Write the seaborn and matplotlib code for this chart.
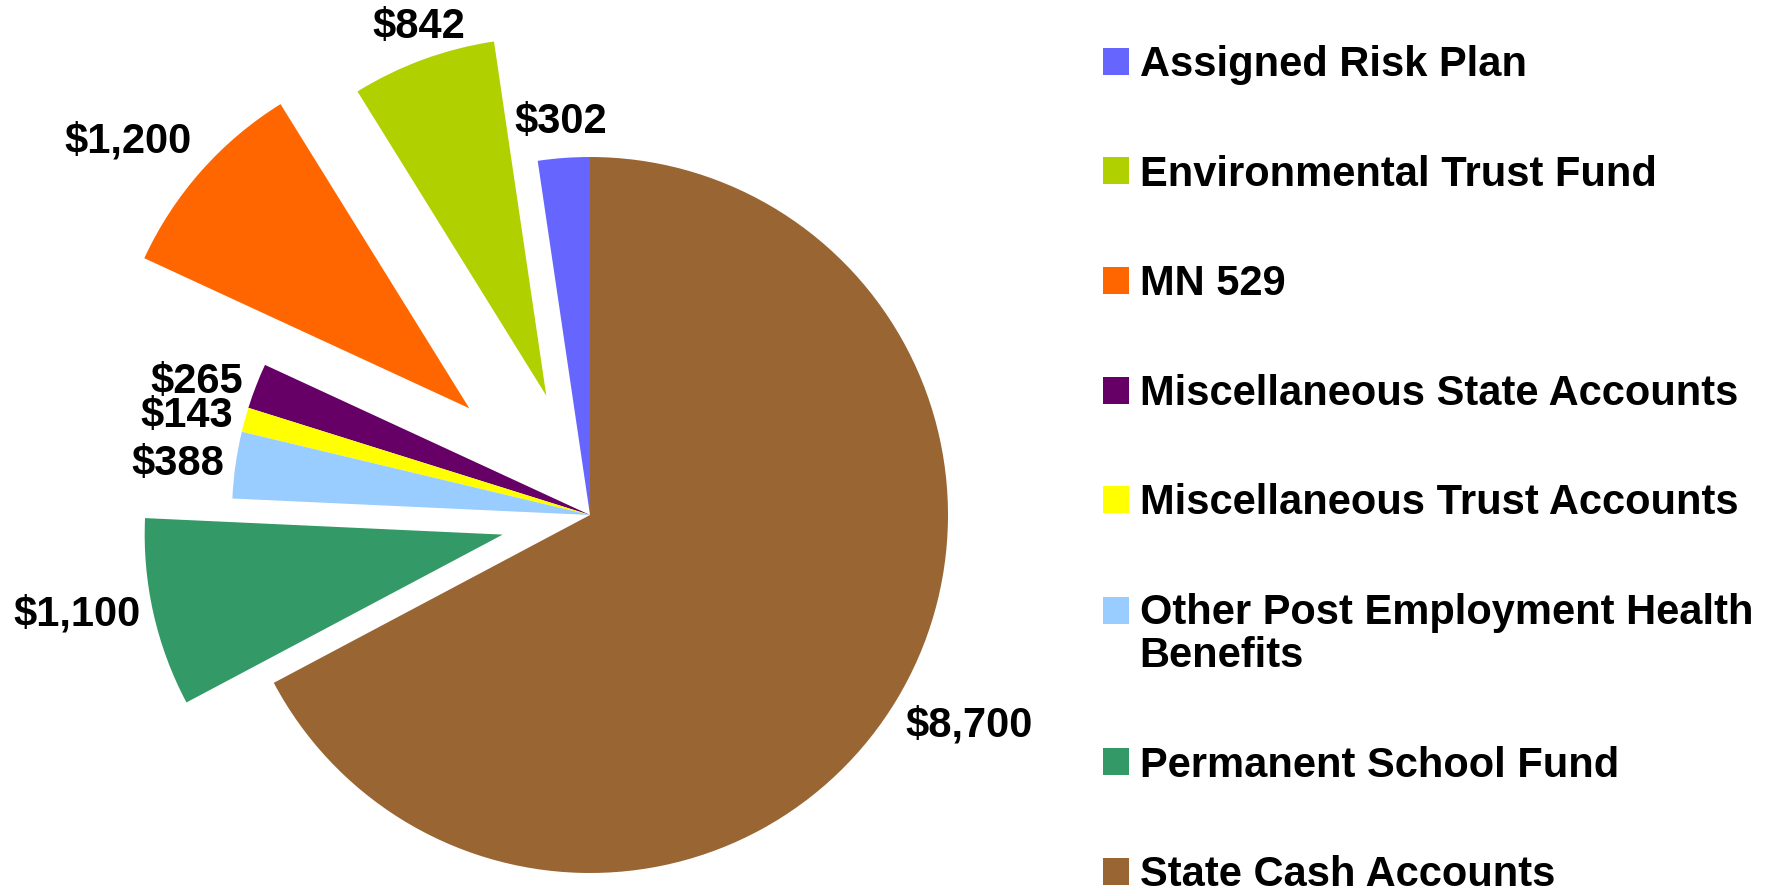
import matplotlib
matplotlib.use("Agg")
import matplotlib.pyplot as plt
import seaborn as sns
import numpy as np
from matplotlib.patches import Patch, Rectangle
from matplotlib.legend_handler import HandlerPatch

sns.set_theme(style="white")
plt.rcParams['font.family'] = ['Liberation Sans', 'DejaVu Sans']

categories = ["Assigned Risk Plan", "Environmental Trust Fund", "MN 529",
              "Miscellaneous State Accounts", "Miscellaneous Trust Accounts",
              "Other Post Employment Health\nBenefits", "Permanent School Fund",
              "State Cash Accounts"]
values = [302, 842, 1200, 265, 143, 388, 1100, 8700]
value_labels = ["$302", "$842", "$1,200", "$265", "$143", "$388", "$1,100", "$8,700"]
colors = ["#6666FF", "#B0D000", "#FF6600", "#660066", "#FFFF00", "#99CCFF",
          "#339966", "#996633"]
explode = [0, 0.355, 0.45, 0, 0, 0, 0.25, 0]
label_dist = [1.10, 1.09, 1.21, 1.16, 1.16, 1.16, 1.21, 1.21]
label_nudge = [0, -1, 3.5, 2.4, 1.7, 1.0, -2, 2]

W, H = 1774, 894
fig = plt.figure(figsize=(W / 100, H / 100), dpi=100)
ax = fig.add_axes([0, 0, 1, 1])
R = 358.0
cx, cy = 590.0, 894 - 515.0

wedges, _ = ax.pie(values, colors=colors, explode=explode, startangle=90,
                   counterclock=True, radius=1,
                   wedgeprops=dict(linewidth=0, edgecolor="none"))
ax.set_aspect('auto')
ax.set_xlim(-cx / R, (W - cx) / R)
ax.set_ylim(-cy / R, (H - cy) / R)
ax.axis('off')

for w, lab, d, nd in zip(wedges, value_labels, label_dist, label_nudge):
    ang = np.deg2rad((w.theta1 + w.theta2) / 2 + nd)
    x0, y0 = w.center
    ax.text(x0 + d * np.cos(ang), y0 + d * np.sin(ang), lab,
            ha='center', va='center', fontsize=30, fontweight='bold', color='black')


def first_line_patch(legend, orig_handle, xdescent, ydescent, width, height, fontsize):
    return Rectangle((-xdescent, -ydescent + 0.6 * fontsize), width, height)


handles = [Patch(facecolor=c, edgecolor='none') for c in colors]
handler_map = {handles[i]: HandlerPatch(patch_func=first_line_patch)
               for i, c in enumerate(categories) if "\n" in c}
leg = fig.legend(handles, categories, loc='upper left',
                 bbox_to_anchor=(1103 / W, 1 - 45 / H), frameon=False,
                 prop=dict(weight='bold', size=30), labelcolor='black',
                 handlelength=0.62, handleheight=0.62, handletextpad=0.26,
                 labelspacing=1.67, borderpad=0, borderaxespad=0,
                 handler_map=handler_map)
for t in leg.get_texts():
    t.set_linespacing(1.1)

fig.savefig("out.png", dpi=100, facecolor='white')
